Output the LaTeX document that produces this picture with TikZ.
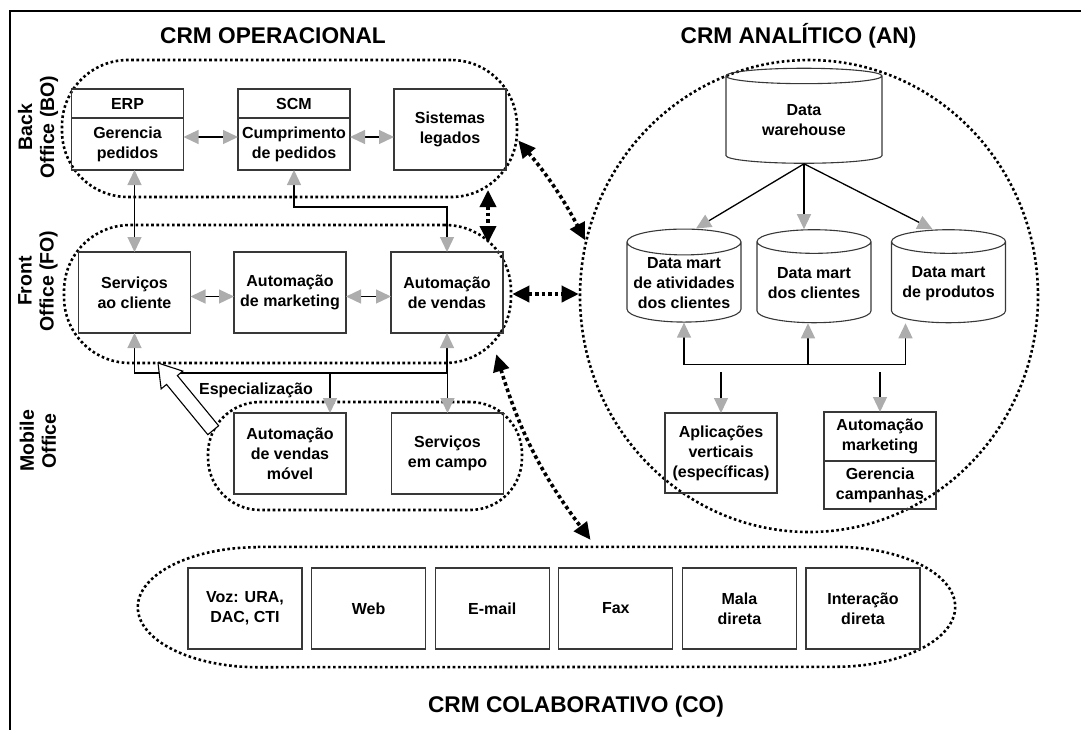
\documentclass[tikz,border=0pt]{standalone}
\usepackage{fontspec}
\setmainfont{Liberation Sans}
\usetikzlibrary{arrows.meta,positioning,calc,shapes.geometric}
\definecolor{CRMInk}{HTML}{000000}
\definecolor{CRMLine}{HTML}{383838}
\definecolor{CRMTip}{HTML}{ADADAD}
\tikzset{
  gtip/.tip={Triangle[length=15pt,width=14pt,color=CRMTip]},
  dtip/.tip={Triangle[length=17pt,width=16pt]},
  gline/.style={draw=CRMInk,line width=1.3pt},
  gboth/.style={gline,{gtip}-{gtip}},
  gto/.style={gline,-{gtip}},
  dotboth/.style={{dtip}-{dtip},draw=CRMInk,line width=3.6pt,dash pattern=on 3.6pt off 3pt},
  boxtxt/.style={font=\fontsize{16}{20}\selectfont\bfseries,align=center},
  box/.style={draw=CRMLine,line width=1.1pt,minimum width=112pt,minimum height=81pt,
              inner sep=1pt,outer sep=0pt,boxtxt},
  headbox/.style={box,minimum height=29pt},
  bodybox/.style={box,minimum height=52pt},
  chanbox/.style={box,minimum width=114pt},
  store/.style={cylinder,shape border rotate=90,aspect=.25,draw=CRMLine,line width=1.1pt,
                minimum width=114pt,minimum height=93pt,inner sep=1pt,boxtxt},
  grp/.style={draw=CRMInk,line width=2.6pt,dash pattern=on 2.6pt off 2.6pt},
  grpbox/.style={grp,rounded corners=66pt,inner sep=0pt},
  hollow/.style={draw=CRMInk,line width=1.1pt,fill=white,line join=miter},
  title/.style={font=\fontsize{22.7}{26}\selectfont\bfseries,anchor=base},
  side/.style={font=\fontsize{19.5}{22}\selectfont\bfseries,align=center,rotate=90},
  frame/.style={draw=CRMInk,line width=1.3pt},
}
\begin{document}
\begin{tikzpicture}[x=1pt,y=1pt]
    \useasboundingbox (0,0) rectangle (1081,-729);
    \draw[frame] (10,-740) -- (10,-11) -- (1090,-11);

    % groups
    \node[grpbox,minimum width=455pt,minimum height=137pt] (bo) at (289.5,-128.5) {};
    \node[grpbox,minimum width=447pt,minimum height=138pt] (fo) at (287.5,-294) {};
    \node[grpbox,rounded corners=52pt,minimum width=314pt,minimum height=108pt] (mo) at (365,-456) {};
    \node[grp,ellipse,minimum width=458pt,minimum height=472pt,inner sep=0pt] (an) at (809,-296) {};
    \node[minimum width=817pt,minimum height=120pt,inner sep=0pt] (co) at (546.5,-607) {};
    \draw[grp] ([xshift=120pt]co.north west) -- ([xshift=-120pt]co.north east)
      arc[start angle=90,end angle=-90,x radius=120pt,y radius=60pt]
      -- ([xshift=120pt]co.south west)
      arc[start angle=270,end angle=90,x radius=120pt,y radius=60pt] -- cycle;

    % titles
    \node[title] (optitle) at (273,-43.5) {CRM OPERACIONAL};
    \node[title] (antitle) at (798.5,-43.5) {CRM ANALÍTICO (AN)};
    \node[title] (cotitle) at (576,-712) {CRM COLABORATIVO (CO)};
    \node[side] (bolabel) at (38,-127) {Back\\Office (BO)};
    \node[side] (folabel) at (38,-281) {Front\\Office (FO)};
    \node[side] (molabel) at (38,-441) {Mobile\\Office};

    % back office
    \node[headbox] (erph) at (127.5,-103.5) {ERP};
    \node[bodybox,below=0pt of erph] (erp) {Gerencia\\pedidos};
    \node[headbox] (scmh) at (294,-103.5) {SCM};
    \node[bodybox,below=0pt of scmh] (scm) {Cumprimento\\de pedidos};
    \node[box] (sist) at (450,-129.5) {Sistemas\\legados};
    \draw[gboth] ([yshift=7pt]erp.east) -- ([yshift=7pt]scm.west);
    \draw[gboth] ([yshift=7pt]scm.east) -- ([yshift=7pt]scm.east -| sist.west);

    % front office
    \node[box] (serv) at (134.5,-292.5) {Serviços\\ao cliente};
    \node[box] (amkt) at (290,-292.5) {Automação\\de marketing};
    \node[box] (avend) at (447,-292.5) {Automação\\de vendas};
    \draw[gboth] ([yshift=-4pt]serv.east) -- ([yshift=-4pt]amkt.west);
    \draw[gboth] ([yshift=-4pt]amkt.east) -- ([yshift=-4pt]avend.west);
    \draw[gboth] (serv.north |- erp.south) -- (serv.north);
    \draw[gboth] (scm.south) -- ++(0,-37) -| (avend.north);

    % mobile office
    \node[box] (avm) at (290,-453.5) {Automação\\de vendas\\móvel};
    \node[box] (scamp) at (447.5,-453.5) {Serviços\\em campo};
    \draw[gboth] (serv.south) -- ++(0,-40) -| (avend.south);
    \draw[gto] ([xshift=40pt,yshift=40pt]avm.north) -- ([xshift=40pt]avm.north);
    \draw[gto] ([yshift=40pt]scamp.north) -- (scamp.north);
    \draw[hollow,shift={(158,-363)},rotate=-50.6]
      (0,0) -- (22,14) -- (22,7) -- (87,7) -- (87,-7) -- (22,-7) -- (22,-14) -- cycle;
    \node[boxtxt] (speclabel) at (256,-390) {Especialização};

    % analitico
    \node[store,minimum width=156pt,minimum height=95pt,aspect=.18] (dw) at (804,-120.5) {Data\\warehouse};
    \node[store] (dmativ) at (684,-283.5) {Data mart\\de atividades\\dos clientes};
    \node[store] (dmcli) at (814,-283.5) {Data mart\\dos clientes};
    \node[store] (dmprod) at (948.5,-283.5) {Data mart\\de produtos};
    \draw[gto] (dw.south) -- ([xshift=12pt]dmativ.north);
    \draw[gto] (dw.south) -- (dw.south |- dmcli.north);
    \draw[gto] (dw.south) -- ([xshift=-16pt]dmprod.north);
    \node[box,minimum height=80pt] (apv) at (721,-453) {Aplicações\\verticais\\(específicas)};
    \node[headbox,minimum height=49pt] (amh) at (880,-436.5) {Automação\\marketing};
    \node[bodybox,minimum height=48pt,below=0pt of amh] (am) {Gerencia\\campanhas};
    \draw[gboth] (dmativ.south) -- ++(0,-42) -| ([xshift=-43pt]dmprod.south);
    \draw[gto] ([xshift=-6pt,yshift=-42pt]dmcli.south) -- ([xshift=-6pt]dmcli.south);
    \draw[gto] ([yshift=41pt]apv.north) -- (apv.north);
    \draw[gto] ([yshift=40pt]amh.north) -- (amh.north);

    % colaborativo
    \foreach \i/\txt in {0/{Voz: URA,\\DAC, CTI},1/Web,2/E-mail,3/Fax,4/{Mala\\direta},5/{Interação\\direta}}
      \node[chanbox] (ch\i) at (245+123.6*\i,-608.5) {\txt};

    % links between the areas
    \draw[dotboth] ([yshift=-12pt]bo.east) to[bend left=6] (an.166);
    \draw[dotboth] ([xshift=-18pt,yshift=-20pt]sist.south east) -- ([xshift=-15pt,yshift=9pt]avend.north east);
    \draw[dotboth] (fo.east) -- (fo.east -| an.west);
    \draw[dotboth] ([xshift=-16pt,yshift=10pt]fo.south east) to[bend right=10] ([xshift=44pt,yshift=7pt]co.north);
\end{tikzpicture}
\end{document}
